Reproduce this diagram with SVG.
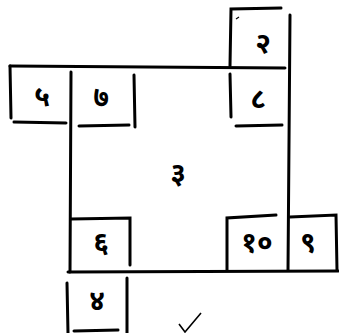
<svg xmlns="http://www.w3.org/2000/svg" width="339" height="333" viewBox="0 0 339 333">
<style>
.l{stroke:#000;stroke-width:3;fill:none;stroke-linecap:round}
.t{font-family:"Noto Sans","DejaVu Sans",sans-serif;font-size:28px;font-weight:bold;fill:#000;text-anchor:middle}
</style>
<rect width="339" height="333" fill="#fff"/>
<g id="frame">
<path class="l" d="M10,66 L285,68"/>
<path class="l" d="M71,72 L70,272"/>
<path class="l" d="M290,15 L288,270"/>
<path class="l" d="M68,272 L338,271"/>
</g>
<g id="n2">
<path class="l" d="M230,66 L231,9 L281,8"/>
<path d="M236,19 L239,17" stroke="#000" stroke-width="1.2"/>
<text class="t" x="263" y="53">२</text>
</g>
<g id="n5">
<path class="l" d="M10,66 L11,118"/>
<path class="l" d="M14,122 L66,123"/>
<text class="t" x="42" y="106">५</text>
</g>
<g id="n7">
<path class="l" d="M134,75 L135,127"/>
<path class="l" d="M79,126 L129,125"/>
<text class="t" x="101" y="107">७</text>
</g>
<g id="n8">
<path class="l" d="M230,74 L231,117"/>
<path class="l" d="M236,126 L282,125"/>
<text class="t" x="258" y="108">८</text>
</g>
<g id="n3">
<text class="t" x="178" y="183">३</text>
</g>
<g id="n6">
<path class="l" d="M71,219 L130,218 L130,265"/>
<text class="t" x="101" y="252">६</text>
</g>
<g id="n10">
<path class="l" d="M227,270 L227,218 L276,215"/>
<text class="t" x="257" y="252">१०</text>
</g>
<g id="n9">
<path class="l" d="M290,217 L336,215 L337,270"/>
<text class="t" x="308" y="252">९</text>
</g>
<g id="n4">
<path class="l" d="M67,283 L68,333"/>
<path class="l" d="M127,278 L127,333"/>
<path class="l" d="M74,331 L118,330"/>
<text class="t" x="97" y="310">४</text>
</g>
<path d="M179,324 L185,332 L201,313" stroke="#000" stroke-width="1.6" fill="none"/>
</svg>
